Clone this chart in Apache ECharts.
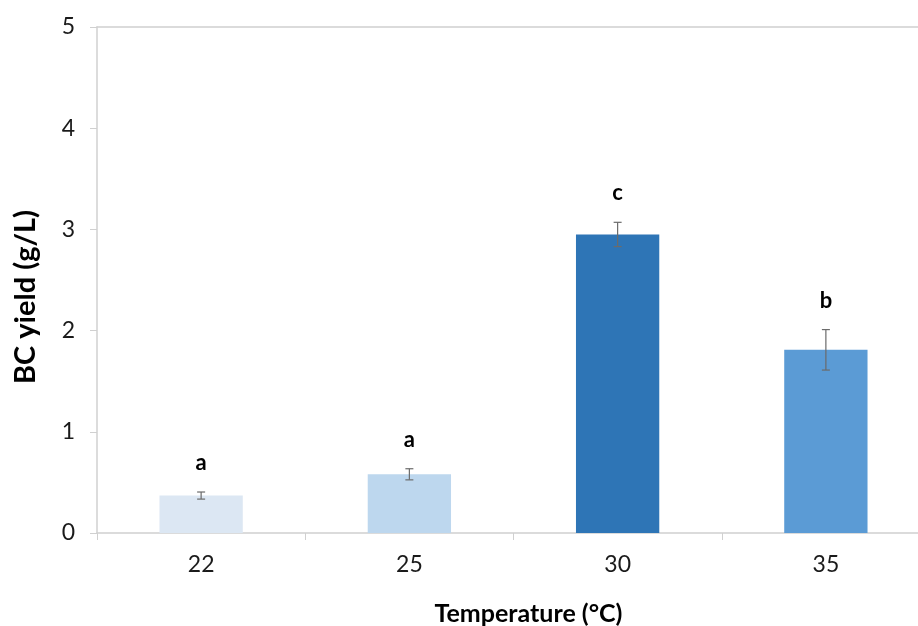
<!DOCTYPE html>
<html>
<head>
<meta charset="utf-8">
<title>BC yield vs temperature</title>
<script src="https://cdn.jsdelivr.net/npm/echarts@6/dist/echarts.min.js"></script>
<style>
  html, body { margin: 0; padding: 0; background: #ffffff; }
  #chart { width: 918px; height: 626px; }
</style>
</head>
<body>
<div id="chart"></div>
<script>
// Cultivation temperature (°C)
const categories = ['22', '25', '30', '35'];
// Mean bacterial cellulose yield (g/L)
const yieldValues = [0.37, 0.58, 2.95, 1.81];
// Standard deviation for each mean
const errorValues = [0.035, 0.055, 0.12, 0.20];
// Significance group letters
const groupLetters = ['a', 'a', 'c', 'b'];
// Y axis ticks
const yTicks = [0, 1, 2, 3, 4, 5];

const barPalette = ['#dce7f3', '#bdd7ee', '#2e75b6', '#5b9bd5'];
const FONT = 'Lato, "Open Sans", sans-serif';
const AXIS_GREY = '#d0d0d0';

const chart = echarts.init(document.getElementById('chart'), null, { renderer: 'canvas' });

const errorData = categories.map((c, i) => [i, yieldValues[i] - errorValues[i], yieldValues[i] + errorValues[i], groupLetters[i]]);

chart.setOption({
  backgroundColor: '#ffffff',
  animation: false,
  // the plot area runs a little past the right edge of the canvas
  grid: { left: 97, width: 833, top: 27, bottom: 93, containLabel: false, outerBoundsMode: 'none' },
  xAxis: [
    {
      type: 'category',
      data: categories,
      name: 'Temperature (°C)',
      nameLocation: 'middle',
      nameGap: 68,
      nameTextStyle: { fontFamily: FONT, fontSize: 25, fontWeight: 'bold', color: '#000', padding: [0, 0, 0, 30] },
      axisLine: { show: true, lineStyle: { color: AXIS_GREY, width: 1.5 } },
      axisTick: { show: true, alignWithLabel: false, length: 7, lineStyle: { color: AXIS_GREY } },
      axisLabel: { fontFamily: FONT, fontSize: 23, color: '#1a1a1a', margin: 20 },
      splitLine: { show: false }
    },
    {
      type: 'category',
      data: categories,
      position: 'top',
      axisLine: { show: true, lineStyle: { color: AXIS_GREY, width: 1.5 } },
      axisTick: { show: false },
      axisLabel: { show: false }
    }
  ],
  yAxis: {
    type: 'value',
    min: yTicks[0],
    max: yTicks[yTicks.length - 1],
    interval: 1,
    name: 'BC yield (g/L)',
    nameLocation: 'middle',
    nameRotate: 90,
    nameGap: 57,
    nameTextStyle: { fontFamily: FONT, fontSize: 29, fontWeight: 'bold', color: '#000', padding: [0, 34, 0, 0] },
    axisLine: { show: true, lineStyle: { color: AXIS_GREY, width: 1.5 } },
    axisTick: { show: true, length: 7, lineStyle: { color: AXIS_GREY } },
    axisLabel: { fontFamily: FONT, fontSize: 23, color: '#1a1a1a', margin: 22 },
    splitLine: { show: false }
  },
  series: [
    {
      type: 'bar',
      data: yieldValues.map((v, i) => ({ value: v, itemStyle: { color: barPalette[i] } })),
      barWidth: '40%',
      z: 2
    },
    {
      type: 'custom',
      data: errorData,
      z: 5,
      renderItem: function (params, api) {
        const x = api.value(0);
        const lo = api.coord([x, api.value(1)]);
        const hi = api.coord([x, api.value(2)]);
        const cap = 4;
        const style = { stroke: '#6b6b6b', lineWidth: 1.2 };
        return {
          type: 'group',
          children: [
            { type: 'line', shape: { x1: hi[0], y1: hi[1], x2: lo[0], y2: lo[1] }, style: style },
            { type: 'line', shape: { x1: hi[0] - cap, y1: hi[1], x2: hi[0] + cap, y2: hi[1] }, style: style },
            { type: 'line', shape: { x1: lo[0] - cap, y1: lo[1], x2: lo[0] + cap, y2: lo[1] }, style: style },
            {
              type: 'text',
              x: hi[0],
              y: hi[1] - 29,
              style: {
                text: api.value(3),
                fontFamily: FONT,
                fontSize: 22,
                fontWeight: 'bold',
                fill: '#000',
                align: 'center',
                verticalAlign: 'middle'
              }
            }
          ]
        };
      },
      encode: { x: 0, y: [1, 2] }
    }
  ]
});
</script>
</body>
</html>
